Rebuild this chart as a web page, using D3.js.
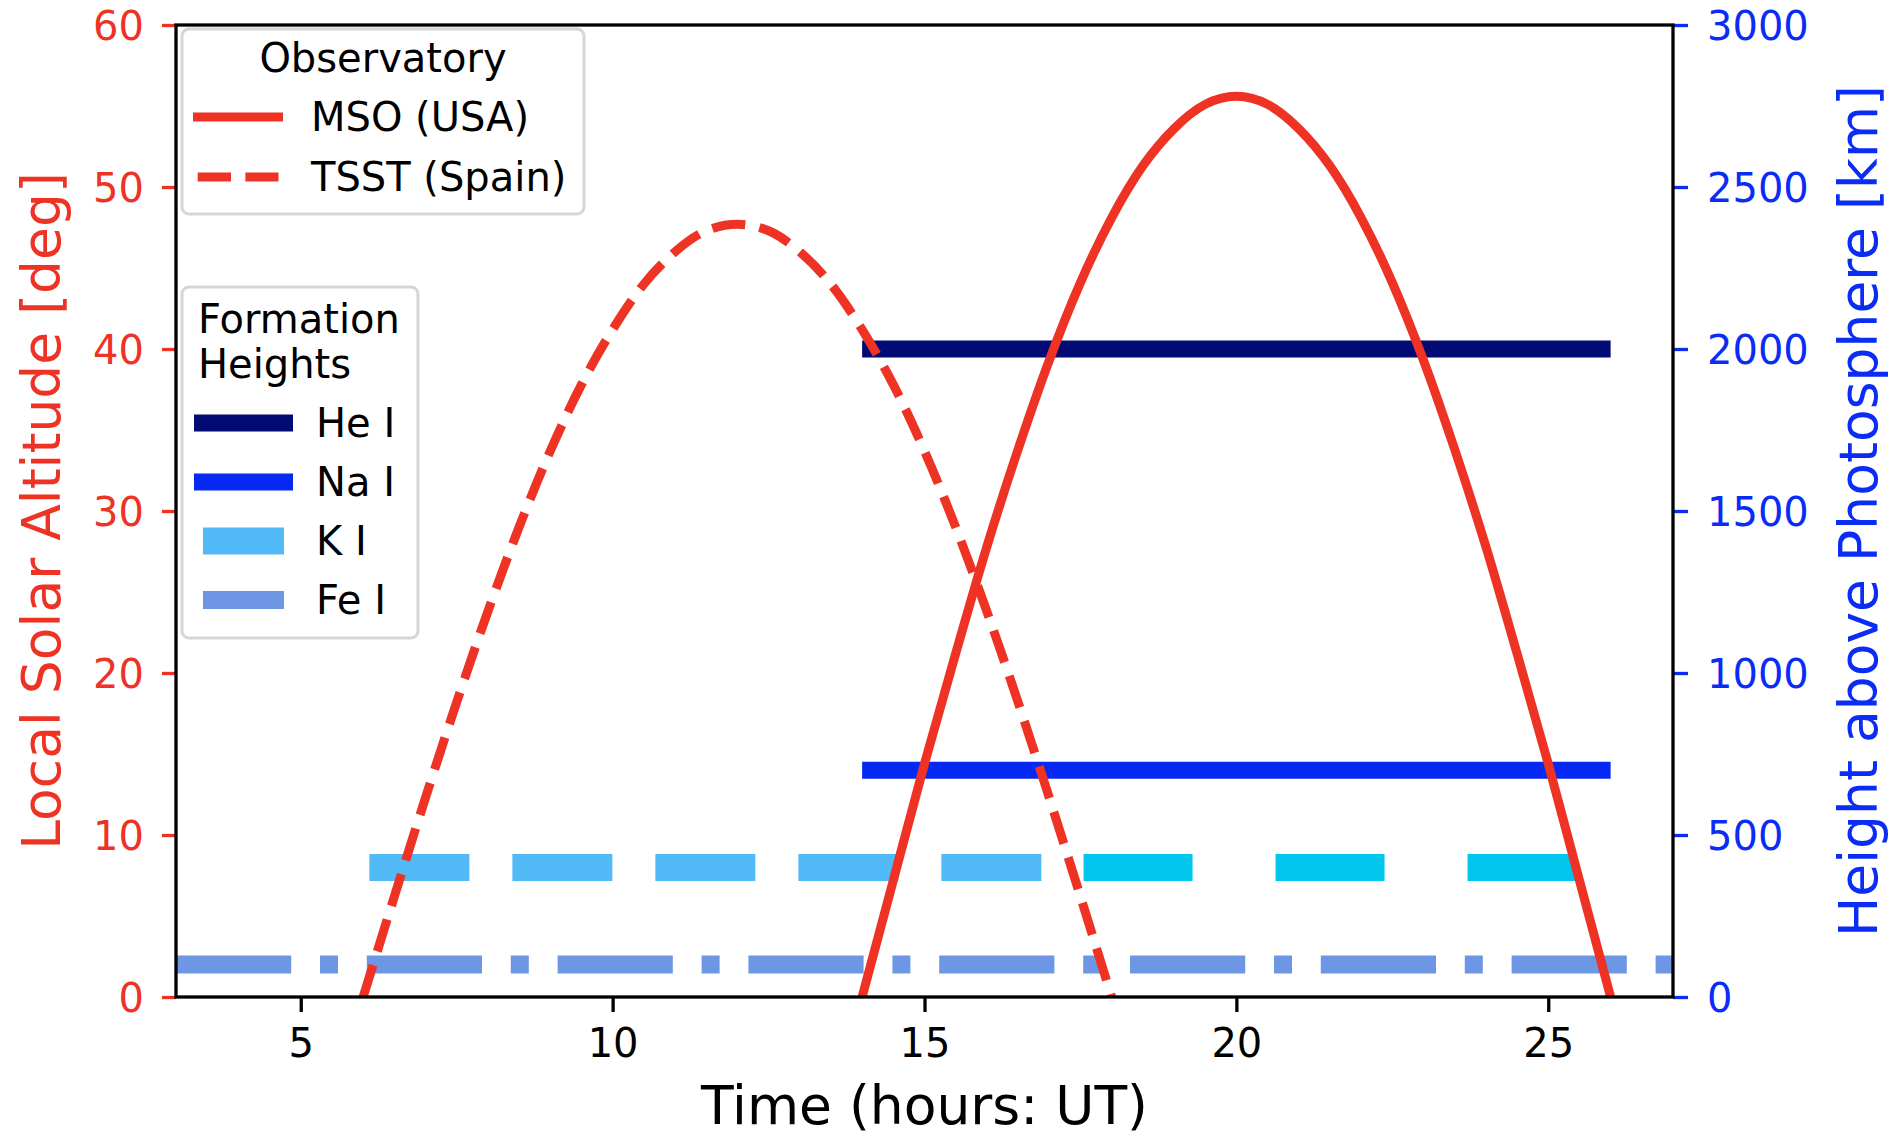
<!DOCTYPE html>
<html>
<head>
<meta charset="utf-8">
<script src="https://cdn.jsdelivr.net/npm/d3@7"></script>
<style>
  body { margin: 0; background: #fff; }
  text { font-family: "DejaVu Sans", sans-serif; }
</style>
</head>
<body>
<div id="chart"></div>
<script>
// solar altitude curves, every half hour
var hoursMSO = [14, 14.5, 15, 15.5, 16, 16.5, 17, 17.5, 18, 18.5, 19, 19.5, 20,
                20.5, 21, 21.5, 22, 22.5, 23, 23.5, 24, 24.5, 25, 25.5, 26];
var altMSO = [0, 7.2, 14.4, 21.2, 27.8, 33.8, 39.3, 44.1, 48.1, 51.3, 53.6, 55.1, 55.6,
              55.1, 53.6, 51.3, 48.1, 44.1, 39.3, 33.8, 27.8, 21.2, 14.4, 7.2, 0];
var hoursTSST = [6, 6.5, 7, 7.5, 8, 8.5, 9, 9.5, 10, 10.5, 11, 11.5, 12,
                 12.5, 13, 13.5, 14, 14.5, 15, 15.5, 16, 16.5, 17, 17.5, 18];
var altTSST = [0, 6.2, 12.3, 18.2, 23.8, 29.0, 33.7, 37.8, 41.2, 44.0, 46.0, 47.3, 47.7,
               47.3, 46.0, 44.0, 41.2, 37.8, 33.7, 29.0, 23.8, 18.2, 12.3, 6.2, 0];

// formation height lines (km), with start / end time
var lineNames = ["Fe I", "K I", "K I", "He I", "Na I"];
var lineHeights = [100, 400, 400, 2000, 700];
var lineStart = [3, 6.1, 17.55, 14, 14];
var lineEnd = [27, 18, 26, 26, 26];

var xTicks = [5, 10, 15, 20, 25];
var altTicks = [0, 10, 20, 30, 40, 50, 60];
var kmTicks = [0, 500, 1000, 1500, 2000, 2500, 3000];

var obsNames = ["MSO (USA)", "TSST (Spain)"];
var heightNames = ["He I", "Na I", "K I", "Fe I"];

var red = "#ee3224", blue = "#0a2cf5";
var lineColors = ["#6d97e4", "#52bbf7", "#00c5ed", "#010b73", "#0528f2"];
var lineWidths = [18, 27, 27, 17, 17];
var lineDash = ["115.2,28.8,18,28.8", "100,43", "109,83", null, null];

var W = 1899, H = 1139;
var margin = { left: 176, right: 1673, top: 25, bottom: 997 };

var svg = d3.select("#chart").append("svg")
    .attr("width", W)
    .attr("height", H);

var x = d3.scaleLinear().domain([3, 27]).range([margin.left, margin.right]);
var yAlt = d3.scaleLinear().domain([0, 60]).range([margin.bottom, margin.top]);
var yKm = d3.scaleLinear().domain([0, 3000]).range([margin.bottom, margin.top]);

svg.append("clipPath").attr("id", "plotclip")
    .append("rect")
    .attr("x", margin.left).attr("y", margin.top)
    .attr("width", margin.right - margin.left).attr("height", margin.bottom - margin.top);

var plot = svg.append("g").attr("clip-path", "url(#plotclip)");

// horizontal formation height lines
plot.selectAll(".hline")
    .data(lineNames)
    .enter().append("line")
    .attr("class", "hline")
    .attr("x1", function(d, i) { return x(lineStart[i]); })
    .attr("x2", function(d, i) { return x(lineEnd[i]); })
    .attr("y1", function(d, i) { return yKm(lineHeights[i]); })
    .attr("y2", function(d, i) { return yKm(lineHeights[i]); })
    .attr("stroke", function(d, i) { return lineColors[i]; })
    .attr("stroke-width", function(d, i) { return lineWidths[i]; })
    .attr("stroke-dasharray", function(d, i) { return lineDash[i]; });

var line = d3.line().curve(d3.curveMonotoneX);

plot.append("path")
    .attr("d", line(hoursTSST.map(function(h, i) { return [x(h), yAlt(altTSST[i])]; })))
    .attr("fill", "none")
    .attr("stroke", red)
    .attr("stroke-width", 9)
    .attr("stroke-dasharray", "33.3,14.4");

plot.append("path")
    .attr("d", line(hoursMSO.map(function(h, i) { return [x(h), yAlt(altMSO[i])]; })))
    .attr("fill", "none")
    .attr("stroke", red)
    .attr("stroke-width", 9);

// axes
var fontSize = "40px";
var labelSize = "53.5px";

var xAxis = svg.append("g")
    .attr("transform", "translate(0," + margin.bottom + ")")
    .call(d3.axisBottom(x).tickValues(xTicks).tickSize(15).tickPadding(17));
xAxis.selectAll("line").attr("stroke", "#000").attr("stroke-width", 3.3);
xAxis.selectAll("text").attr("fill", "#000").style("font-size", fontSize).style("font-family", "DejaVu Sans");

var lAxis = svg.append("g")
    .attr("transform", "translate(" + margin.left + ",0)")
    .call(d3.axisLeft(yAlt).tickValues(altTicks).tickSize(14).tickPadding(18));
lAxis.selectAll("line").attr("stroke", red).attr("stroke-width", 3.3);
lAxis.selectAll("text").attr("fill", red).attr("dy", "0.36em").style("font-size", fontSize).style("font-family", "DejaVu Sans");

var rAxis = svg.append("g")
    .attr("transform", "translate(" + margin.right + ",0)")
    .call(d3.axisRight(yKm).tickValues(kmTicks).tickFormat(d3.format("d")).tickSize(15).tickPadding(19));
rAxis.selectAll("line").attr("stroke", blue).attr("stroke-width", 3.3);
rAxis.selectAll("text").attr("fill", blue).attr("dy", "0.36em").style("font-size", fontSize).style("font-family", "DejaVu Sans");

svg.selectAll(".domain").remove();

// spines
svg.append("rect")
    .attr("x", margin.left).attr("y", margin.top)
    .attr("width", margin.right - margin.left).attr("height", margin.bottom - margin.top)
    .attr("fill", "none")
    .attr("stroke", "#000")
    .attr("stroke-width", 3.3);

// axis labels
var midY = (margin.top + margin.bottom) / 2;

svg.append("text")
    .attr("x", (margin.left + margin.right) / 2)
    .attr("y", 1124)
    .attr("text-anchor", "middle")
    .style("font-size", labelSize)
    .text("Time (hours: UT)");

svg.append("text")
    .attr("transform", "translate(60," + midY + ") rotate(-90)")
    .attr("text-anchor", "middle")
    .attr("fill", red)
    .style("font-size", labelSize)
    .text("Local Solar Altitude [deg]");

svg.append("text")
    .attr("transform", "translate(1877," + midY + ") rotate(-90)")
    .attr("text-anchor", "middle")
    .attr("fill", blue)
    .style("font-size", labelSize)
    .text("Height above Photosphere [km]");

// legend: observatory
var leg1 = svg.append("g");
leg1.append("rect")
    .attr("x", 182).attr("y", 29).attr("width", 402).attr("height", 185)
    .attr("rx", 7)
    .attr("fill", "#fff").attr("fill-opacity", 0.8)
    .attr("stroke", "#d6d6d6").attr("stroke-width", 3);
leg1.append("text")
    .attr("x", 383).attr("y", 72)
    .attr("text-anchor", "middle")
    .style("font-size", fontSize)
    .text("Observatory");
obsNames.forEach(function(name, i) {
    var cy = 117 + i * 60;
    leg1.append("line")
        .attr("x1", i === 0 ? 193 : 197.7).attr("x2", i === 0 ? 283 : 278.5)
        .attr("y1", cy).attr("y2", cy)
        .attr("stroke", red).attr("stroke-width", 9)
        .attr("stroke-dasharray", i === 0 ? null : "33.3,14.4");
    leg1.append("text")
        .attr("x", 311).attr("y", cy + 14)
        .style("font-size", fontSize)
        .text(name);
});

// legend: formation heights
var leg2 = svg.append("g");
leg2.append("rect")
    .attr("x", 182).attr("y", 287).attr("width", 236).attr("height", 351)
    .attr("rx", 7)
    .attr("fill", "#fff").attr("fill-opacity", 0.8)
    .attr("stroke", "#d6d6d6").attr("stroke-width", 3);
leg2.append("text")
    .attr("x", 198).attr("y", 333)
    .style("font-size", fontSize)
    .text("Formation");
leg2.append("text")
    .attr("x", 198).attr("y", 378)
    .style("font-size", fontSize)
    .text("Heights");
var legColors = ["#010b73", "#0528f2", "#52bbf7", "#6d97e4"];
var legWidths = [17, 17, 27, 18];
heightNames.forEach(function(name, i) {
    var cy = 423 + i * 59;
    var solid = i < 2;
    leg2.append("line")
        .attr("x1", solid ? 194 : 203).attr("x2", solid ? 293 : 284)
        .attr("y1", cy).attr("y2", cy)
        .attr("stroke", legColors[i]).attr("stroke-width", legWidths[i]);
    leg2.append("text")
        .attr("x", 316).attr("y", cy + 14)
        .style("font-size", fontSize)
        .text(name);
});
</script>
</body>
</html>
